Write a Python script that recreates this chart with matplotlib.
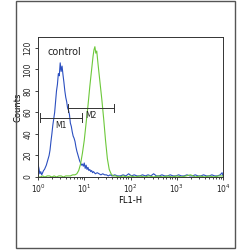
import matplotlib
matplotlib.use("Agg")
import matplotlib.pyplot as plt
from matplotlib.patches import Rectangle
import numpy as np

# log10(FL1-H) positions and counts
blue_logx = [0.00,0.02,0.04,0.06,0.08,0.10,0.12,0.14,0.16,0.18,0.20,0.22,0.24,0.26,0.28,0.30,
             0.32,0.34,0.36,0.38,0.40,0.42,0.44,0.46,0.48,0.50,0.52,0.54,0.56,0.58,0.60,0.62,
             0.64,0.66,0.68,0.70,0.72,0.74,0.76,0.78,0.80,0.82,0.84,0.86,0.88,0.90,0.92,0.94,
             0.96,0.98,1.00,1.02,1.04,1.06,1.08,1.10,1.12,1.14,1.16,1.18,1.20,1.24,1.28,1.32,
             1.36,1.40,1.44,1.48,1.52,1.56,1.60,1.66,1.72,1.78,1.84,1.90,1.96,2.02,2.08,2.14,
             2.20,2.26,2.32,2.38,2.44,2.50,2.56,2.62,2.68,2.74,2.80,2.86,2.92,2.98,3.04,3.10,
             3.16,3.22,3.28,3.34,3.40,3.46,3.52,3.58,3.64,3.70,3.76,3.82,3.88,3.94,3.98,4.00]
blue_counts = [12,8,3,5,2,4,6,7,9,11,14,17,20,25,33,40,
               48,54,60,70,80,86,96,94,106,98,103,95,88,80,74,70,
               64,62,58,50,47,42,38,36,33,28,24,21,18,15,13,11,
               12,10,13,8,11,7,9,6,7,5,6,4,5,3,4,3,
               2,3,2,2,1,2,1,2,1,1,2,1,3,1,2,1,
               1,2,1,2,1,3,1,1,2,1,1,2,1,1,2,1,
               1,2,1,1,2,1,1,2,1,1,2,1,1,2,4,1]

green_logx = [0.00,0.05,0.10,0.15,0.20,0.25,0.30,0.35,0.40,0.45,0.50,0.55,0.60,0.65,0.70,0.75,
              0.80,0.84,0.88,0.92,0.96,1.00,1.04,1.08,1.12,1.16,1.19,1.21,1.23,1.25,1.27,1.30,
              1.34,1.38,1.42,1.46,1.50,1.54,1.58,1.62,1.68,1.76,1.84,1.92,2.00,2.10,2.20,2.30,
              2.40,2.50,2.60,2.70,2.80,2.90,3.00,3.10,3.20,3.30,3.40,3.50,3.60,3.70,3.80,3.90,4.00]
green_counts = [0,0,1,0,1,1,0,1,0,1,1,0,1,1,1,2,
                2,3,6,12,22,34,50,66,84,100,112,118,121,115,117,104,
                88,72,54,34,17,7,3,1,1,0,1,0,1,0,1,0,
                1,0,1,0,1,0,1,0,1,2,0,1,0,1,0,1,1]

gate_names = ["M1", "M2"]
gate_lo = [1.1, 4.5]
gate_hi = [9.0, 45.0]
gate_y = [55, 64]

fig = plt.figure(figsize=(2.5, 2.5), dpi=100)
fig.patches.append(Rectangle((0.064, 0.008), 0.876, 0.99, transform=fig.transFigure,
                             fill=False, edgecolor="#555555", linewidth=1.0))
ax = fig.add_axes([0.152, 0.292, 0.740, 0.560])

ax.plot(10 ** np.array(blue_logx), blue_counts, color="#2b4fc0", lw=0.8)
ax.plot(10 ** np.array(green_logx), green_counts, color="#6cc83a", lw=0.8)

for name, lo, hi, y in zip(gate_names, gate_lo, gate_hi, gate_y):
    ax.plot([lo, hi], [y, y], color="#333333", lw=0.7)
    ax.plot([lo, lo], [y - 4, y + 4], color="#333333", lw=0.7)
    ax.plot([hi, hi], [y - 4, y + 4], color="#333333", lw=0.7)
    ax.text(np.sqrt(lo * hi), y - 3, name, fontsize=5.5, ha="center", va="top", color="#222222")

ax.text(0.05, 0.93, "control", transform=ax.transAxes, fontsize=7, va="top", ha="left", color="#222222")

ax.set_xscale("log")
ax.set_xlim(1, 10000)
ax.set_ylim(0, 130)
ax.set_yticks([0, 20, 40, 60, 80, 100, 120])
ax.set_xticks([1, 10, 100, 1000, 10000])
ax.set_xticklabels([r"$10^0$", r"$10^1$", r"$10^2$", r"$10^3$", r"$10^4$"])
ax.tick_params(axis="both", labelsize=5.5, length=2.5, width=0.6, pad=1.5, colors="#222222")
ax.tick_params(axis="x", which="minor", length=1.5, width=0.5)
for lab in ax.get_yticklabels():
    lab.set_rotation(90)
    lab.set_va("center")
ax.set_xlabel("FL1-H", fontsize=6, labelpad=1)
ax.set_ylabel("Counts", fontsize=6, labelpad=1)
for s in ax.spines.values():
    s.set_linewidth(0.7)
    s.set_color("#333333")

fig.savefig("out.png", dpi=100)
